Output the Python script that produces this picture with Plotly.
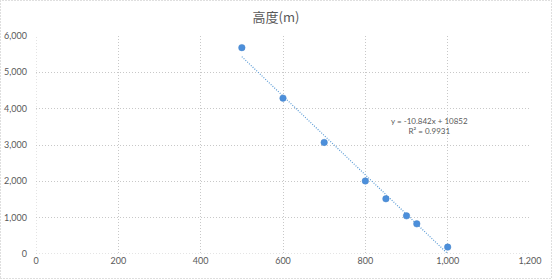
import plotly.graph_objects as go
import numpy as np

# Data
pressure = [500, 600, 700, 800, 850, 900, 925, 1000]
height = [5680, 4290, 3070, 2010, 1520, 1050, 830, 190]
slope = -10.842
intercept = 10852
eq_text = "y = -10.842x + 10852<br>R² = 0.9931"
title_text = "高度(m)"

x_ticks = [0, 200, 400, 600, 800, 1000, 1200]
y_ticks = [0, 1000, 2000, 3000, 4000, 5000, 6000]

tx = np.array([min(pressure), max(pressure)])
ty = slope * tx + intercept

W, H = 552, 279
ml, mr, mt, mb = 36, 22, 36, 25
pw, ph = W - ml - mr, H - mt - mb
GRID = "#C8C8C8"
GDASH = "1px,2px"

fig = go.Figure()
fig.add_trace(go.Scatter(x=tx, y=ty, mode="lines",
                         line=dict(color="#5B9BD5", width=1.2, dash="1px,1.5px"),
                         hoverinfo="skip", showlegend=False))
fig.add_trace(go.Scatter(x=pressure, y=height, mode="markers",
                         marker=dict(color="#4C8FDB", size=6.5,
                                     line=dict(color="#4A86C8", width=0.5)),
                         showlegend=False))

fig.add_annotation(x=955, y=3530, xref="x", yref="y", text=eq_text,
                   showarrow=False, align="center",
                   font=dict(family="Lato, Liberation Sans, sans-serif", size=8, color="#595959"))

grid = dict(showgrid=True, gridcolor=GRID, griddash=GDASH, gridwidth=1,
            zeroline=False, showline=False, ticks="", automargin=False,
            tickfont=dict(family="Lato, Liberation Sans, sans-serif", size=9, color="#595959"))

fig.update_xaxes(range=[0, 1200], tickvals=x_ticks, tickformat=",d", **grid)
fig.update_yaxes(range=[0, 6000], tickvals=y_ticks, tickformat=",d", ticklabelstandoff=8, **grid)

# boundary grid lines at zero (plotly omits them)
fig.add_shape(type="line", xref="x", yref="y", x0=0, x1=1200, y0=0, y1=0,
              line=dict(color=GRID, width=1, dash=GDASH), layer="below")
fig.add_shape(type="line", xref="x", yref="y", x0=0, x1=0, y0=0, y1=6000,
              line=dict(color=GRID, width=1, dash=GDASH), layer="below")

# outer chart border
fig.add_shape(type="rect", xref="paper", yref="paper",
              x0=(0.5 - ml) / pw, x1=(W - 0.5 - ml) / pw,
              y0=-(H - 0.5 - (H - mb)) / ph, y1=(H - mb - 0.5) / ph,
              line=dict(color="#BFBFBF", width=1, dash=GDASH), layer="below")

fig.update_layout(
    width=W, height=H,
    margin=dict(l=ml, r=mr, t=mt, b=mb),
    paper_bgcolor="white", plot_bgcolor="white",
    title=dict(text=title_text, x=276 / W, xanchor="center", y=1 - 17 / H, yanchor="middle",
               font=dict(family="Noto Sans CJK SC, sans-serif", size=13, color="#595959")),
)

fig.write_html("out.html")
